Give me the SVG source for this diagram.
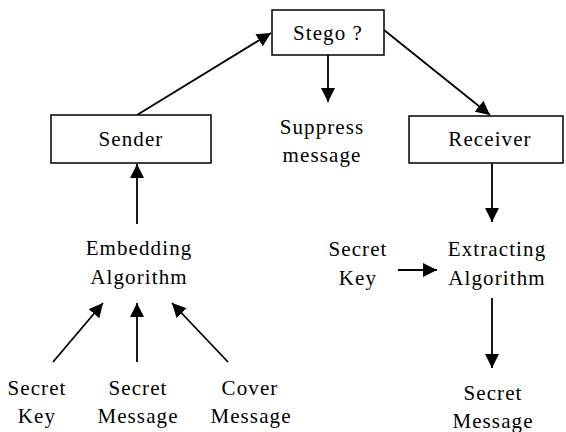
<svg xmlns="http://www.w3.org/2000/svg" width="566" height="432" viewBox="0 0 566 432">
<defs>
<marker id="ah" viewBox="0 0 10 10" refX="10" refY="5" markerWidth="14" markerHeight="14" markerUnits="userSpaceOnUse" orient="auto">
<path d="M0,0 L10,5 L0,10 z" fill="#000"/>
</marker>
</defs>
<style>
text{font-family:"Liberation Serif","Times New Roman",serif;font-size:21px;fill:#000;text-anchor:middle;letter-spacing:1.1px}
.box{fill:#fff;stroke:#000;stroke-width:1.5}
.c{stroke:#000;stroke-width:1.8;fill:none;marker-end:url(#ah)}
</style>
<rect width="566" height="432" fill="#fff"/>
<g id="connectors">
<line class="c" x1="137" y1="115" x2="271" y2="33"/>
<line class="c" x1="328" y1="55" x2="328" y2="102"/>
<line class="c" x1="384" y1="30" x2="490" y2="115"/>
<line class="c" x1="137" y1="224" x2="137" y2="164"/>
<line class="c" x1="492" y1="163" x2="492" y2="222"/>
<line class="c" x1="398" y1="270" x2="437" y2="270"/>
<line class="c" x1="492" y1="298" x2="492" y2="368"/>
<line class="c" x1="53" y1="362" x2="103" y2="303"/>
<line class="c" x1="137" y1="362" x2="137" y2="303"/>
<line class="c" x1="228" y1="362" x2="172" y2="303"/>
</g>
<g id="stego"><rect class="box" x="272" y="10" width="112" height="45"/><text x="328" y="40">Stego ?</text></g>
<g id="sender"><rect class="box" x="51" y="115" width="160" height="48"/><text x="131" y="146">Sender</text></g>
<g id="receiver"><rect class="box" x="409" y="116" width="154" height="47"/><text x="490" y="146">Receiver</text></g>
<g id="suppress"><text x="322" y="134">Suppress</text><text x="322" y="162">message</text></g>
<g id="embedding"><text x="139" y="255">Embedding</text><text x="139" y="284">Algorithm</text></g>
<g id="secretkey1"><text x="37" y="395">Secret</text><text x="37" y="423">Key</text></g>
<g id="secretmsg1"><text x="138" y="395">Secret</text><text x="138" y="423">Message</text></g>
<g id="cover"><text x="250" y="395">Cover</text><text x="251" y="423">Message</text></g>
<g id="secretkey2"><text x="358" y="256">Secret</text><text x="358" y="285">Key</text></g>
<g id="extracting"><text x="497" y="256">Extracting</text><text x="497" y="285">Algorithm</text></g>
<g id="secretmsg2"><text x="493" y="400">Secret</text><text x="493" y="428">Message</text></g>
</svg>
